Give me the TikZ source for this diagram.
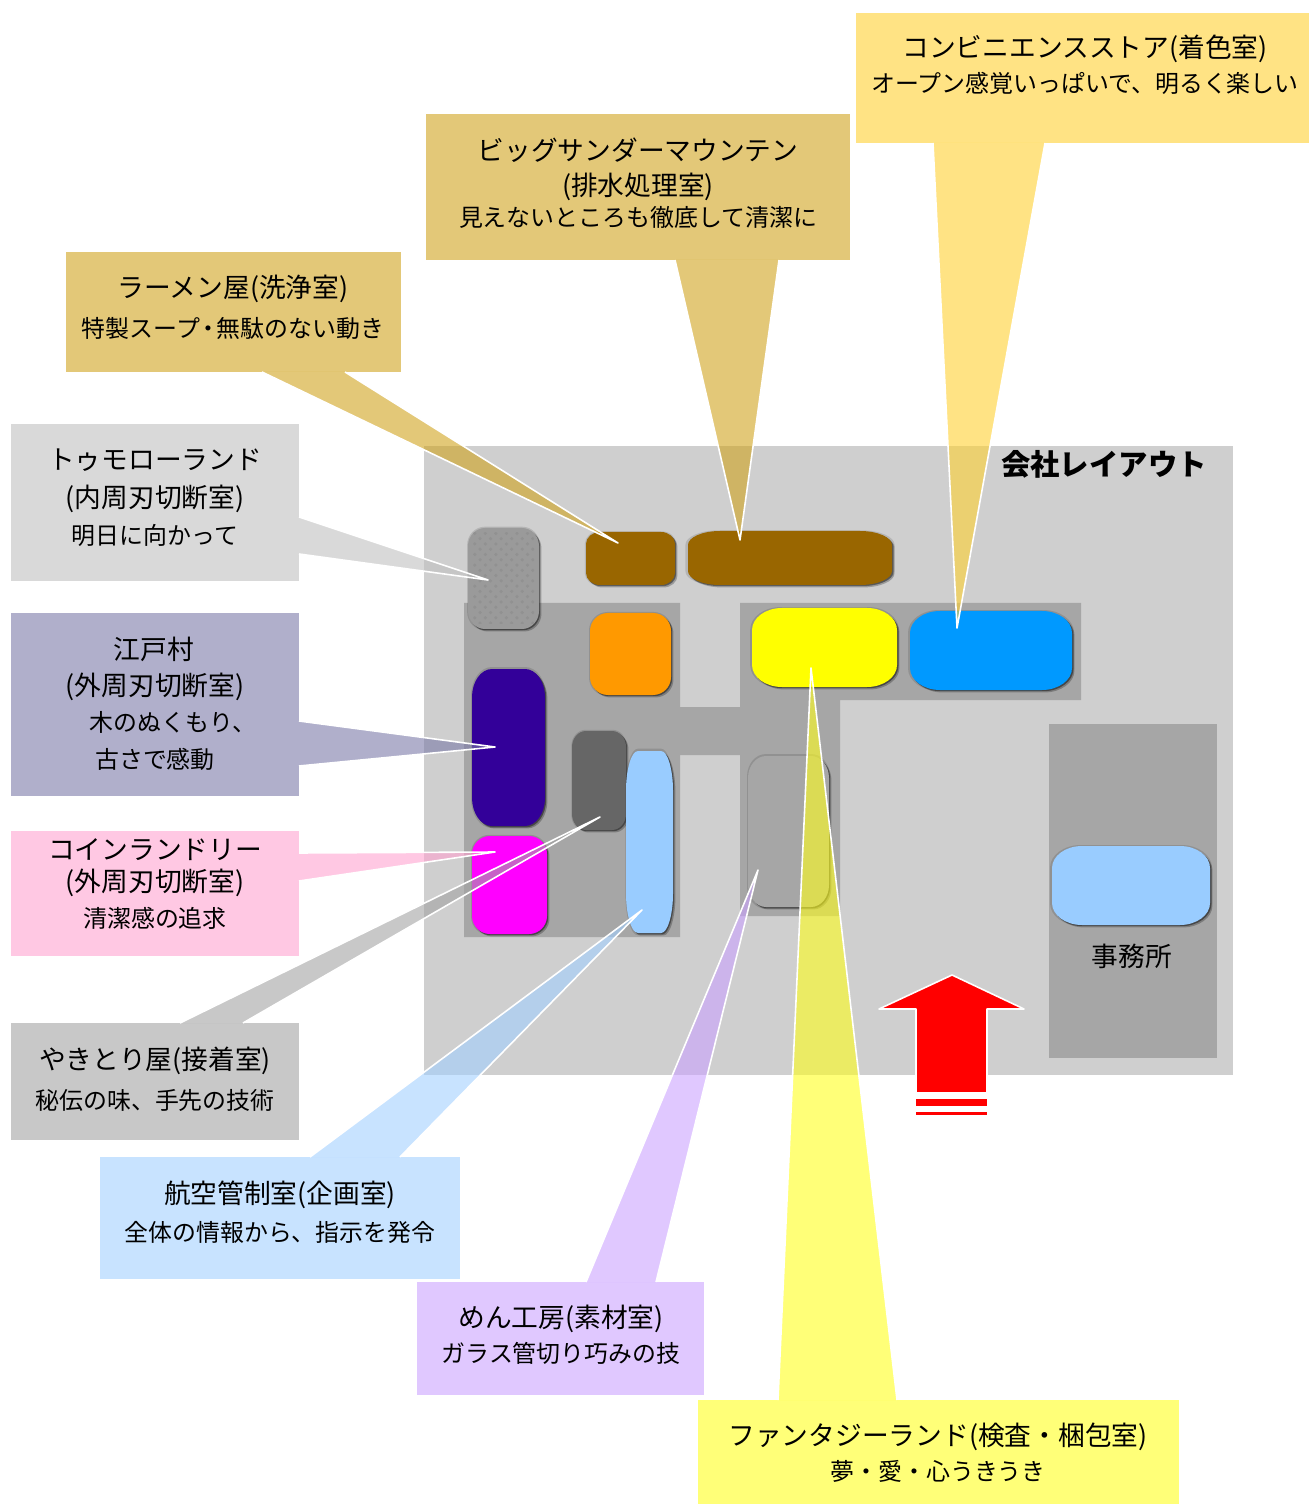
\documentclass[tikz,border=0pt]{standalone}
\usepackage{fontspec}
\usepackage{xcolor}
\usepackage{tikz}
\usetikzlibrary{shadows,patterns}
\newfontfamily\jpfont{Noto Sans CJK JP}
\definecolor{floorc}{HTML}{CFCFCF}
\definecolor{aislec}{HTML}{A6A6A6}
\definecolor{conveniencec}{RGB}{255,209,50}
\definecolor{thunderc}{RGB}{208,163,30}
\definecolor{tomorrowc}{RGB}{192,192,192}
\definecolor{edoc}{RGB}{123,122,168}
\definecolor{coinc}{RGB}{255,163,208}
\definecolor{yakitoric}{RGB}{163,163,163}
\definecolor{airc}{RGB}{163,208,255}
\definecolor{menc}{RGB}{203,163,255}
\definecolor{fantasyc}{RGB}{255,255,30}
\definecolor{brownc}{HTML}{996600}
\definecolor{orangec}{HTML}{FF9900}
\definecolor{skyc}{HTML}{0099FF}
\definecolor{indigoc}{HTML}{330099}
\definecolor{palec}{HTML}{99CCFF}
\definecolor{lemonc}{HTML}{FFFF00}
\definecolor{pinkc}{HTML}{FF00FF}
\definecolor{slatec}{HTML}{666666}
\definecolor{speckc}{HTML}{9A9A9A}
\definecolor{arrowc}{HTML}{FF0000}
\tikzset{
 callbox/.style={fill opacity=0.6, inner sep=0pt},
 tailedge/.style={white, line width=0.45pt, line join=round},
 titletext/.style={font=\jpfont\fontsize{7.6}{9}\selectfont, inner sep=0pt},
 subtext/.style={font=\jpfont\fontsize{6.8}{9}\selectfont, inner sep=0pt},
 roomshadow/.style={
  general shadow={shadow scale=1.025, fill=black, opacity=0.12},
  general shadow={shadow xshift=0.7pt, shadow yshift=-0.7pt, fill=black, opacity=0.25},
  general shadow={shadow xshift=0.35pt, shadow yshift=-0.35pt, fill=black, opacity=0.35}}
}
\newcommand{\roomblock}[8]{
 \path[fill=#8, roomshadow] ({#2+#6},#3) -- ({#4-#6},#3)
  .. controls ({#4-.45*#6},#3) and (#4,{#3+.45*#7}) .. (#4,{#3+#7}) -- (#4,{#5-#7})
  .. controls (#4,{#5-.45*#7}) and ({#4-.45*#6},#5) .. ({#4-#6},#5) -- ({#2+#6},#5)
  .. controls ({#2+.45*#6},#5) and (#2,{#5-.45*#7}) .. (#2,{#5-#7}) -- (#2,{#3+#7})
  .. controls (#2,{#3+.45*#7}) and ({#2+.45*#6},#3) .. ({#2+#6},#3) -- cycle;
 \coordinate (#1) at ({(#2+#4)/2},{(#3+#5)/2});
}
\newcommand{\calltail}[4]{
 \fill[#1, fill opacity=0.6] #2 -- #3 -- #4 -- cycle;
 \draw[tailedge] #2 -- #3 -- #4;
}
\begin{document}
\begin{tikzpicture}[x=0.01cm, y=-0.01cm]
 \useasboundingbox (0,0) rectangle (1309,1504);
 \fill[floorc] (424,446) rectangle (1233,1075);
 \fill[aislec] (464,603) -- (680,603) -- (680,707) -- (740,707) -- (740,603) -- (1081,603) -- (1081,700) -- (840,700) -- (840,916) -- (740,916) -- (740,755) -- (680,755) -- (680,937) -- (464,937) -- cycle;
 \fill[aislec] (1049,724) rectangle (1217,1058);

 \roomblock{tomorrowroom}{468}{528}{539}{629}{17}{18}{speckc}
 \fill[pattern=crosshatch dots, pattern color=speckc!94!black] (473,533) rectangle (534,624);
 \roomblock{ramenroom}{586}{532}{675}{585}{14}{12}{brownc}
 \roomblock{thunderroom}{688}{531}{892}{585}{32}{14}{brownc}
 \roomblock{planroom}{590}{613}{671}{695}{18}{18}{orangec}
 \roomblock{fantasyroom}{752}{608}{897}{687}{30}{22}{lemonc}
 \roomblock{convenienceroom}{910}{611}{1072}{690}{30}{22}{skyc}
 \roomblock{edoroom}{472}{669}{545}{826}{20}{28}{indigoc}
 \roomblock{coinroom}{472}{836}{547}{934}{18}{18}{pinkc}
 \roomblock{yakitoriroom}{572}{731}{626}{830}{14}{16}{slatec}
 \roomblock{airroom}{626}{751}{673}{933}{12}{40}{palec}
 \roomblock{menroom}{748}{756}{829}{907}{18}{22}{aislec}
 \roomblock{officeroom}{1052}{846}{1210}{925}{30}{22}{palec}

 \node[titletext] (officelabel) at (1132,956) {事務所};
 \node[font=\jpfont\bfseries\fontsize{8.35}{10}\selectfont, inner sep=0pt] (layouttitle) at (1104,464) {会社レイアウト};

 \fill[arrowc] (952,975) -- (1024,1009) -- (987,1009) -- (987,1093) -- (916,1093) -- (916,1009) -- (879,1009) -- cycle;
 \draw[tailedge] (916,1093) -- (916,1009) -- (879,1009) -- (952,975) -- (1024,1009) -- (987,1009) -- (987,1093) -- cycle;
 \fill[arrowc] (916,1099) rectangle (987,1106);
 \fill[arrowc] (916,1112) rectangle (987,1115);

 \node[callbox, fill=conveniencec, minimum width=4.53cm, minimum height=1.30cm] (conveniencebox) at (1082.5,78) {};
 \node[callbox, fill=thunderc, minimum width=4.24cm, minimum height=1.46cm] (thunderbox) at (638,187) {};
 \node[callbox, fill=thunderc, minimum width=3.35cm, minimum height=1.20cm] (ramenbox) at (233.5,312) {};
 \node[callbox, fill=tomorrowc, minimum width=2.88cm, minimum height=1.57cm] (tomorrowbox) at (155,502.5) {};
 \node[callbox, fill=edoc, minimum width=2.88cm, minimum height=1.83cm] (edobox) at (155,704.5) {};
 \node[callbox, fill=coinc, minimum width=2.88cm, minimum height=1.25cm] (coinbox) at (155,893.5) {};
 \node[callbox, fill=yakitoric, minimum width=2.88cm, minimum height=1.17cm] (yakitoribox) at (155,1081.5) {};
 \node[callbox, fill=airc, minimum width=3.60cm, minimum height=1.22cm] (airbox) at (280,1218) {};
 \node[callbox, fill=menc, minimum width=2.87cm, minimum height=1.13cm] (menbox) at (560.5,1338.5) {};
 \node[callbox, fill=fantasyc, minimum width=4.81cm, minimum height=1.04cm] (fantasybox) at (938.5,1452) {};

 \coordinate (conveniencetip) at (957,628);
 \coordinate (thundertip) at (740,540);
 \coordinate (ramentip) at (618,543);
 \coordinate (tomorrowtip) at (488,580);
 \coordinate (edotip) at (495,747);
 \coordinate (cointip) at (495,852);
 \coordinate (yakitoritip) at (600,817);
 \coordinate (airtip) at (642,910);
 \coordinate (mentip) at (758,870);
 \coordinate (fantasytip) at (811,668);

 \calltail{conveniencec}{(933,143)}{(conveniencetip)}{(1045,143)}
 \calltail{thunderc}{(675,260)}{(thundertip)}{(779,260)}
 \calltail{thunderc}{(262,372)}{(ramentip)}{(345,372)}
 \calltail{tomorrowc}{(299,517)}{(tomorrowtip)}{(299,554)}
 \calltail{edoc}{(299,721)}{(edotip)}{(299,766)}
 \calltail{coinc}{(299,853)}{(cointip)}{(299,881)}
 \calltail{yakitoric}{(180,1023)}{(yakitoritip)}{(243,1023)}
 \calltail{airc}{(310,1157)}{(airtip)}{(400,1157)}
 \calltail{menc}{(586,1282)}{(mentip)}{(656,1282)}
 \calltail{fantasyc}{(778,1400)}{(fantasytip)}{(897,1400)}

 \node[titletext] (convenience1) at (1085,49) {コンビニエンスストア(着色室)};
 \node[subtext] (convenience2) at (1085,83) {オープン感覚いっぱいで、明るく楽しい};
 \node[titletext] (thunder1) at (638,150) {ビッグサンダーマウンテン};
 \node[titletext] (thunder2) at (638,187) {(排水処理室)};
 \node[subtext] (thunder3) at (638,217) {見えないところも徹底して清潔に};
 \node[titletext] (ramen1) at (233,289) {ラーメン屋(洗浄室)};
 \node[subtext] (ramen2) at (233,328) {特製スープ\kern-0.15em・\kern-0.15em無駄のない動き};
 \node[titletext] (tomorrow1) at (155,460) {トゥモローランド};
 \node[titletext] (tomorrow2) at (155,499) {(内周刃切断室)};
 \node[subtext] (tomorrow3) at (155,535) {明日に向かって};
 \node[titletext] (edo1) at (154,649) {江戸村};
 \node[titletext] (edo2) at (155,687) {(外周刃切断室)};
 \node[subtext] (edo3) at (173,722) {木のぬくもり、};
 \node[subtext] (edo4) at (155,759) {古さで感動};
 \node[titletext] (coin1) at (155,850) {コインランドリー};
 \node[titletext] (coin2) at (155,883) {(外周刃切断室)};
 \node[subtext] (coin3) at (155,918) {清潔感の追求};
 \node[titletext] (yakitori1) at (155,1061) {やきとり屋(接着室)};
 \node[subtext] (yakitori2) at (155,1100) {秘伝の味、手先の技術};
 \node[titletext] (air1) at (280,1195) {航空管制室(企画室)};
 \node[subtext] (air2) at (280,1232) {全体の情報から、指示を発令};
 \node[titletext] (men1) at (561,1319) {めん工房(素材室)};
 \node[subtext] (men2) at (561,1353) {ガラス管切り巧みの技};
 \node[titletext] (fantasy1) at (938,1437) {ファンタジーランド(検査・梱包室)};
 \node[subtext] (fantasy2) at (938,1471) {夢・愛・心うきうき};
\end{tikzpicture}
\end{document}
